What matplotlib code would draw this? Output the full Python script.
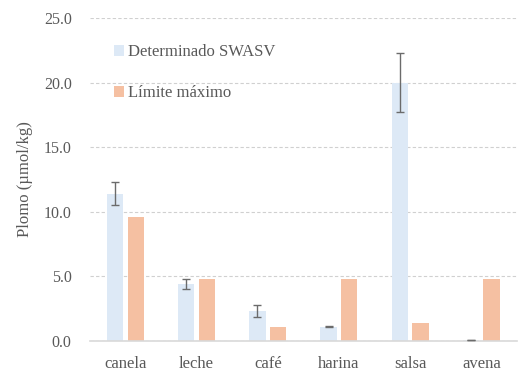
import matplotlib
matplotlib.use("Agg")
import matplotlib.pyplot as plt
import numpy as np

categories = ["canela", "leche", "café", "harina", "salsa", "avena"]
determinado = [11.4, 4.4, 2.3, 1.1, 20.0, 0.05]
determinado_err = [0.9, 0.4, 0.45, 0.05, 2.3, 0.0]
limite = [9.6, 4.8, 1.1, 4.8, 1.4, 4.8]

BLUE, ORANGE = "#dde9f6", "#f5c0a2"
GREY_TXT = "#595959"

plt.rcParams["font.family"] = ["Liberation Serif", "DejaVu Serif"]

fig = plt.figure(figsize=(5.19, 3.81), dpi=100)
ax = fig.add_axes([0.173, 0.105, 0.823, 0.848])

x = np.arange(len(categories))
w = 0.23
ax.bar(x - 0.145, determinado, w, color=BLUE, label="Determinado SWASV", zorder=2)
ax.errorbar(x - 0.145, determinado, yerr=determinado_err, fmt="none", ecolor="#6b6b6b",
            elinewidth=1, capsize=3, capthick=1, zorder=3)
ax.bar(x + 0.145, limite, w, color=ORANGE, label="Límite máximo", zorder=2)

ax.set_ylim(0, 25)
ax.set_xlim(-0.5, len(categories) - 0.5)
ax.set_yticks(np.arange(0, 25.1, 5))
ax.set_yticklabels([f"{v:.1f}" for v in np.arange(0, 25.1, 5)])
ax.set_xticks(x)
ax.set_xticklabels(categories)
ax.tick_params(axis="both", length=0, labelsize=11.5, colors=GREY_TXT)
ax.tick_params(axis="x", labelsize=12, pad=11)
ax.tick_params(axis="y", pad=13)
ax.yaxis.grid(True, color="#d0d0d0", linestyle=(0, (3, 2)), linewidth=0.8, zorder=0)
ax.set_axisbelow(True)

for s in ("top", "right", "left"):
    ax.spines[s].set_visible(False)
ax.spines["bottom"].set_color("#d9d9d9")
ax.spines["bottom"].set_linewidth(1.2)

ax.set_ylabel("Plomo (µmol/kg)", fontsize=12, color=GREY_TXT, labelpad=8)

ax.legend(loc="upper left", bbox_to_anchor=(0.022, 0.965), frameon=False, fontsize=12,
          labelcolor=GREY_TXT, handlelength=0.6, handleheight=0.6, handletextpad=0.2,
          labelspacing=1.5)

fig.savefig("out.png", dpi=100)
